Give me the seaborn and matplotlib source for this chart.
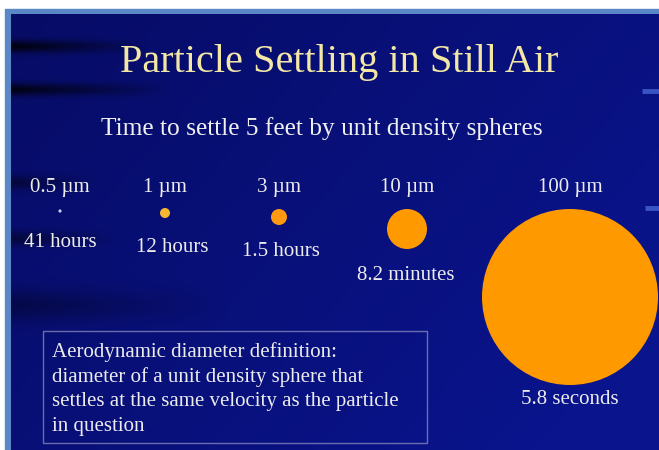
import matplotlib
matplotlib.use("Agg")
import matplotlib.pyplot as plt
import numpy as np
import pandas as pd
import seaborn as sns
from matplotlib.patches import Rectangle

# particle data
diameters_um = [0.5, 1, 3, 10, 100]
size_labels = ["0.5 \u00b5m", "1 \u00b5m", "3 \u00b5m", "10 \u00b5m", "100 \u00b5m"]
settle_times = ["41 hours", "12 hours", "1.5 hours", "8.2 minutes", "5.8 seconds"]

title = "Particle Settling in Still Air"
subtitle = "Time to settle 5 feet by unit density spheres"
note_lines = [
    "Aerodynamic diameter definition:",
    "diameter of a unit density sphere that",
    "settles at the same velocity as the particle",
    "in question",
]

# layout (pixel coords, y down)
col_x = [60, 165, 279, 407, 570]
dot_y = [211, 213, 217, 229, 297]
dot_r = [1.6, 5, 8, 20, 88]
time_x = [60, 172, 281, 406, 570]
time_y = [247, 252, 256, 280, 404]
dot_colors = ["#c8d0f0", "#f7b733", "#ff9a10", "#ff9900", "#ff9900"]

W, H = 659, 450
sns.set_theme(style="white")
plt.rcParams['font.family'] = ['Liberation Serif', 'DejaVu Serif']

fig = plt.figure(figsize=(W / 100, H / 100), dpi=100, facecolor="white")
ax = fig.add_axes([0, 0, 1, 1])
ax.set_axis_off()

# slide frame
ax.add_patch(Rectangle((5, 9), W - 5, H - 9, color="#5a87c5", zorder=0))

# background gradient with dark streaks
x0, y0 = 11, 14
yy, xx = np.mgrid[y0:H, x0:W].astype(float)
top = np.array([5, 8, 85]) / 255
mid = np.array([10, 20, 140]) / 255
t = np.clip(0.3 + 0.5 * (xx - x0) / (W - x0) + 0.3 * (yy - y0) / (H - y0), 0, 1)
bg = top[None, None, :] * (1 - t[..., None]) + mid[None, None, :] * t[..., None]
dark = np.zeros_like(xx)
for sy, sx, w, strength in [(46, 140, 6, 0.85), (89, 160, 6, 0.8), (182, 90, 7, 0.45),
                            (238, 110, 7, 0.45), (305, 220, 16, 0.35)]:
    dark += strength * np.exp(-((yy - sy) / w) ** 2) * np.clip(1 - (xx - x0) / sx, 0, 1)
dark = np.clip(dark, 0, 0.9)
bg = bg * (1 - dark[..., None])
ax.imshow(bg, extent=(x0, W, H, y0), zorder=1, aspect="auto", interpolation="bilinear")

# right-edge accent dashes
for ry, rx in [(91, 642), (208, 645)]:
    ax.plot([rx, W], [ry, ry], color="#5a80f0", lw=3.5, alpha=0.6, solid_capstyle="butt", zorder=2)

# particles
df = pd.DataFrame({
    "label": size_labels,
    "diameter": diameters_um,
    "x": col_x,
    "y": dot_y,
})
sizes = {lab: (2 * r * 0.72) ** 2 for lab, r in zip(size_labels, dot_r)}
palette = dict(zip(size_labels, dot_colors))
sns.scatterplot(data=df, x="x", y="y", size="label", sizes=sizes, hue="label",
                palette=palette, linewidth=0, legend=False, ax=ax, zorder=3)

ax.set_xlim(0, W)
ax.set_ylim(H, 0)
ax.set_xlabel("")
ax.set_ylabel("")

# text
ax.text(339, 72, title, color="#f3e7a6", fontsize=29, ha="center", va="baseline", zorder=4)
ax.text(322, 135, subtitle, color="#f0f0f0", fontsize=18.3, ha="center", va="baseline", zorder=4)
for lab, x in zip(size_labels, col_x):
    ax.text(x, 192, lab, color="#ececec", fontsize=15, ha="center", va="baseline", zorder=4)
for tm, x, y in zip(settle_times, time_x, time_y):
    ax.text(x, y, tm, color="#ececec", fontsize=15, ha="center", va="baseline", zorder=4)

ax.add_patch(Rectangle((43, 331), 384, 112, fill=False, edgecolor="#8286bb", lw=1,
                       alpha=0.8, zorder=4))
for i, line in enumerate(note_lines):
    ax.text(52, 357 + i * 24.7, line, color="#ececec", fontsize=15, ha="left",
            va="baseline", zorder=4)

fig.savefig("out.png", dpi=100, facecolor="white")
